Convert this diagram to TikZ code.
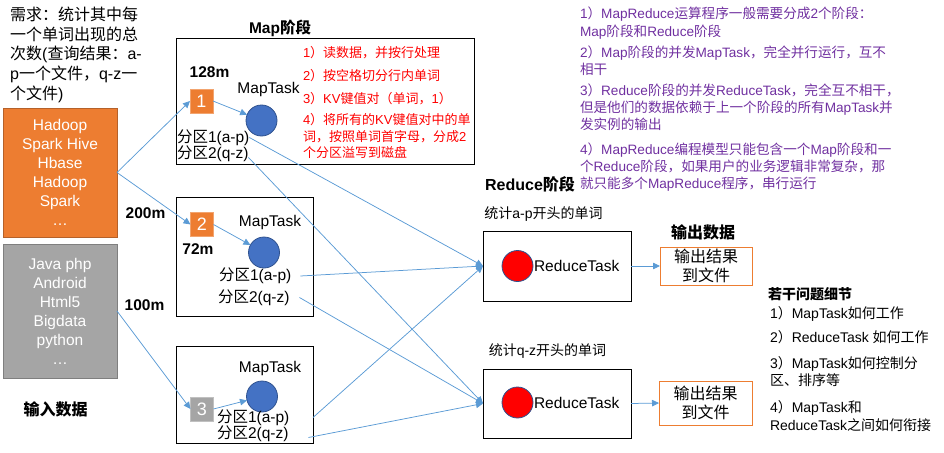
\documentclass[tikz,border=0pt]{standalone}
\usepackage{fontspec}
\setmainfont{Liberation Sans}
\newfontfamily\cjkfont{Noto Sans CJK SC}
\usetikzlibrary{arrows.meta}
\XeTeXinterchartokenstate=1
\newXeTeXintercharclass\CJKcls
\newcount\cjkcnt
\cjkcnt="4E00
\loop\XeTeXcharclass\cjkcnt=\CJKcls\advance\cjkcnt by 1\relax\ifnum\cjkcnt<"A000\repeat
\cjkcnt="3000
\loop\XeTeXcharclass\cjkcnt=\CJKcls\advance\cjkcnt by 1\relax\ifnum\cjkcnt<"3040\repeat
\cjkcnt="FF00
\loop\XeTeXcharclass\cjkcnt=\CJKcls\advance\cjkcnt by 1\relax\ifnum\cjkcnt<"FFF0\repeat
\XeTeXinterchartoks 0 \CJKcls = {\begingroup\cjkfont}
\XeTeXinterchartoks 4095 \CJKcls = {\begingroup\cjkfont}
\XeTeXinterchartoks \CJKcls 0 = {\endgroup}
\XeTeXinterchartoks \CJKcls 4095 = {\endgroup}
\newcommand\fsz[2]{\fontsize{#1}{#2}\selectfont}
\definecolor{connblue}{HTML}{5B9BD5}
\definecolor{inorange}{HTML}{ED7D31}
\definecolor{inorangeD}{HTML}{B5612A}
\definecolor{ingray}{HTML}{A5A5A5}
\definecolor{ingrayD}{HTML}{7F7F7F}
\definecolor{cblue}{HTML}{4472C4}
\definecolor{cblueD}{HTML}{2F528F}
\definecolor{tpurple}{HTML}{7030A0}
\begin{document}
\begin{tikzpicture}[x=1pt,y=-1pt,
  conn/.style={draw=connblue, line width=0.75pt, -{Triangle[width=6.5pt,length=7pt]}},
  blk/.style={draw=black, line width=1pt, inner sep=0pt, outer sep=0pt},
  txt/.style={inner sep=0pt, outer sep=0pt, font=\fsz{15.5}{16}},
  btxt/.style={inner sep=0pt, outer sep=0pt, font=\fsz{16}{16}\bfseries},
  inbox/.style={line width=1pt, inner sep=0pt, outer sep=0pt, text=white, align=center, font=\fsz{15.5}{19}, minimum width=114pt},
  sqbox/.style={inner sep=0pt, outer sep=0pt, minimum width=23pt, minimum height=24pt, text=white, font=\fsz{18}{18}},
  mapc/.style={circle, fill=cblue, draw=cblueD, line width=0.8pt, minimum size=31pt, inner sep=0pt, outer sep=0pt},
  redc/.style={circle, fill=red, draw=cblueD, line width=0.8pt, minimum size=31pt, inner sep=0pt, outer sep=0pt},
  outbox/.style={draw=inorange, line width=1pt, inner sep=0pt, outer sep=0pt, align=center, font=\fsz{16}{19}},
  redtxt/.style={inner sep=0pt, outer sep=0pt, anchor=west, align=left, text=red, font=\fsz{13}{16.5}},
  purtxt/.style={inner sep=0pt, outer sep=0pt, anchor=west, align=left, text=tpurple, font=\fsz{13.6}{17.3}},
  qtxt/.style={inner sep=0pt, outer sep=0pt, anchor=west, align=left, font=\fsz{14}{17.5}}
]
\useasboundingbox (0,0) rectangle (944,452);

% requirement text
\node[inner sep=0pt, anchor=west, align=left, font=\fsz{16}{19.6}] (req) at (10,54.7)
  {需求：统计其中每\\一个单词出现的总\\次数(查询结果：a-\\p一个文件，q-z一\\个文件)};

% input boxes
\node[inbox, fill=inorange, draw=inorangeD, minimum height=129pt] (in1) at (60,172.5)
  {Hadoop\\Spark Hive\\Hbase\\Hadoop\\Spark\\…};
\node[inbox, fill=ingray, draw=ingrayD, minimum height=134pt] (in2) at (60,311)
  {Java php\\Android\\Html5\\Bigdata\\python\\…};
\node[btxt] (inlab) at (55.5,409) {输入数据};

% map stage
\node[btxt, font=\fsz{15.5}{16}\bfseries] (maplab) at (280,28.5) {Map阶段};
\node[blk, minimum width=298pt, minimum height=125pt] (map1) at (325,101.5) {};
\node[blk, minimum width=137pt, minimum height=119pt] (map2) at (244.5,256.5) {};
\node[blk, minimum width=137pt, minimum height=97pt] (map3) at (244.5,394.5) {};

\node[btxt, font=\fsz{15.5}{16}\bfseries] (s128) at (209.5,72.5) {128m};
\node[btxt, font=\fsz{15.5}{16}\bfseries] (s200) at (145.5,213) {200m};
\node[btxt, font=\fsz{15.5}{16}\bfseries] (s72) at (198,249.5) {72m};
\node[btxt, font=\fsz{15.5}{16}\bfseries] (s100) at (144.5,305) {100m};

\node[sqbox, fill=inorange, draw=inorange!70!white, line width=0.8pt] (sq1) at (201.5,101) {1};
\node[sqbox, fill=inorange, draw=inorange!70!white, line width=0.8pt] (sq2) at (202,224.5) {2};
\node[sqbox, fill=ingray, draw=ingray!70!white, line width=0.8pt] (sq3) at (202,409) {3};

\node[txt] (mt1) at (268.5,89.5) {MapTask};
\node[txt] (mt2) at (270,222) {MapTask};
\node[txt] (mt3) at (270,368.5) {MapTask};

\node[mapc] (c1) at (261.5,120.5) {};
\node[mapc] (c2) at (264,252.5) {};
\node[mapc] (c3) at (262,396.5) {};

\node[txt, anchor=west] (m1p1) at (177,137.5) {分区1(a-p)};
\node[txt, anchor=west] (m1p2) at (177,153.5) {分区2(q-z)};
\node[txt, anchor=west] (m2p1) at (219,276) {分区1(a-p)};
\node[txt, anchor=west] (m2p2) at (218,297.5) {分区2(q-z)};
\node[txt, anchor=west] (m3p1) at (217,417.5) {分区1(a-p)};
\node[txt, anchor=west] (m3p2) at (217,433.5) {分区2(q-z)};

\node[redtxt] (rt1) at (303,52.5) {1）读数据，并按行处理};
\node[redtxt] (rt2) at (303,76) {2）按空格切分行内单词};
\node[redtxt] (rt3) at (303,99) {3）KV键值对（单词，1）};
\node[redtxt] (rt4) at (303,136) {4）将所有的KV键值对中的单\\词，按照单词首字母，分成2\\个分区溢写到磁盘};

% explanation text
\node[purtxt] (pt1) at (580,23) {1）MapReduce运算程序一般需要分成2个阶段：\\Map阶段和Reduce阶段};
\node[purtxt] (pt2) at (580,60.7) {2）Map阶段的并发MapTask，完全并行运行，互不\\相干};
\node[purtxt] (pt3) at (580,107.4) {3）Reduce阶段的并发ReduceTask，完全互不相干，\\但是他们的数据依赖于上一个阶段的所有MapTask并\\发实例的输出};
\node[purtxt] (pt4) at (580,167) {4）MapReduce编程模型只能包含一个Map阶段和一\\个Reduce阶段，如果用户的业务逻辑非常复杂，那\\就只能多个MapReduce程序，串行运行};

% reduce stage
\node[btxt] (redlab) at (530,184) {Reduce阶段};
\node[inner sep=0pt, font=\fsz{14}{16}] (ap) at (543.5,214) {统计a-p开头的单词};
\node[inner sep=0pt, font=\fsz{14}{16}] (qz) at (547.5,351) {统计q-z开头的单词};
\node[blk, minimum width=148pt, minimum height=70pt] (red1) at (557,266) {};
\node[blk, minimum width=148pt, minimum height=69pt] (red2) at (557,403.5) {};
\node[redc] (rc1) at (517.5,266) {};
\node[redc] (rc2) at (517.5,402.5) {};
\node[txt, anchor=west] (rl1) at (534,266) {ReduceTask};
\node[txt, anchor=west] (rl2) at (534,402.5) {ReduceTask};

% output
\node[btxt] (outlab) at (703,232) {输出数据};
\node[outbox, minimum width=92pt, minimum height=38pt] (out1) at (706,266) {输出结果\\到文件};
\node[outbox, minimum width=93pt, minimum height=44pt] (out2) at (705.5,403) {输出结果\\到文件};

% questions
\node[inner sep=0pt, anchor=west, font=\fsz{14}{16}\bfseries] (qt) at (768,294) {若干问题细节};
\node[qtxt] (q1) at (770,314) {1）MapTask如何工作};
\node[qtxt] (q2) at (770,337) {2）ReduceTask 如何工作};
\node[qtxt] (q3) at (770,371.5) {3）MapTask如何控制分\\区、排序等};
\node[qtxt] (q4) at (770,416) {4）MapTask和\\ReduceTask之间如何衔接};

% connectors
\draw[conn] (in1.east) -- (sq1.west);
\draw[conn] (in1.east) -- (sq2.west);
\draw[conn] (in2.east) -- (sq3.west);
\draw[conn] (sq1.east) -- (c1);
\draw[conn] (sq2.east) -- (c2);
\draw[conn] (sq3.east) -- (c3);
\draw[conn] (m1p1.east) -- (red1.west);
\draw[conn] ([yshift=-4pt]m1p2.east) -- (red2.west);
\draw[conn] ([xshift=9pt]m2p1.east) -- (red1.west);
\draw[conn] ([xshift=10pt]m2p2.east) -- (red2.west);
\draw[conn] (map3.east |- m3p1.east) -- (red1.west);
\draw[conn] ([xshift=20pt,yshift=-4pt]m3p2.east) -- (red2.west);
\draw[conn] (red1.east) -- (out1.west);
\draw[conn] (red2.east) -- (out2.west);
\end{tikzpicture}
\end{document}
